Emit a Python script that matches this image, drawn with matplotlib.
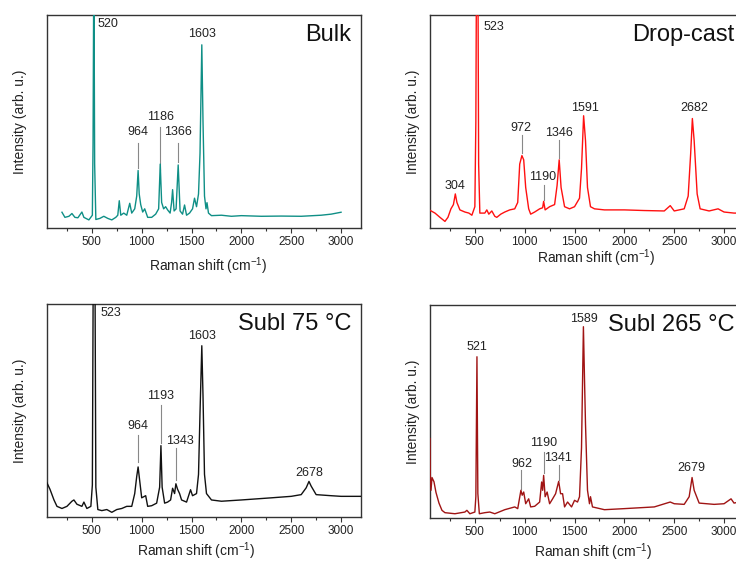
import matplotlib
matplotlib.use("Agg")
import matplotlib.pyplot as plt
from matplotlib.ticker import MultipleLocator

plt.rcParams['font.family'] = ['Liberation Sans', 'DejaVu Sans']
plt.rcParams['mathtext.fontset'] = 'custom'
plt.rcParams['mathtext.rm'] = 'Liberation Sans'
plt.rcParams['mathtext.default'] = 'regular'

# ---------------- data (normalized intensity) -------------
bulk_x = [200, 230, 270, 300, 330, 360, 400, 420, 470, 505, 512, 520, 528, 540, 580, 620, 660,
          700, 740, 760, 775, 790, 820, 850, 880, 900, 930, 950, 964, 975, 990, 1010, 1030, 1060,
          1100, 1140, 1170, 1186, 1200, 1220, 1240, 1260, 1285, 1300, 1310, 1325, 1345, 1366,
          1385, 1410, 1430, 1450, 1480, 1510, 1530, 1550, 1570, 1585, 1603, 1615, 1630, 1645,
          1655, 1670, 1700, 1800, 1900, 2000, 2200, 2400, 2600, 2800, 2900, 3000]
bulk_y = [0.074, 0.05, 0.055, 0.068, 0.05, 0.048, 0.075, 0.05, 0.038, 0.06, 0.4, 1.3, 0.3, 0.04,
          0.045, 0.055, 0.045, 0.038, 0.05, 0.06, 0.128, 0.06, 0.07, 0.06, 0.116, 0.07, 0.09,
          0.15, 0.27, 0.16, 0.11, 0.075, 0.09, 0.05, 0.05, 0.065, 0.09, 0.30, 0.12, 0.09, 0.1,
          0.085, 0.07, 0.12, 0.18, 0.08, 0.09, 0.296, 0.08, 0.065, 0.108, 0.06, 0.07, 0.09, 0.14,
          0.1, 0.16, 0.35, 0.86, 0.5, 0.15, 0.09, 0.119, 0.07, 0.058, 0.06, 0.055, 0.058, 0.055,
          0.056, 0.055, 0.06, 0.065, 0.074]

drop_x = [50, 100, 150, 200, 230, 260, 285, 304, 320, 350, 400, 440, 470, 500, 510, 517, 530,
          538, 550, 600, 620, 640, 670, 700, 720, 760, 800, 850, 900, 930, 950, 972, 990, 1010,
          1040, 1060, 1100, 1150, 1180, 1190, 1205, 1250, 1300, 1325, 1346, 1365, 1400, 1450,
          1500, 1550, 1570, 1591, 1610, 1630, 1660, 1700, 1800, 2000, 2200, 2400, 2460, 2500,
          2600, 2640, 2665, 2682, 2700, 2730, 2760, 2850, 2940, 3000, 3100, 3200]
drop_y = [0.083, 0.07, 0.05, 0.031, 0.05, 0.09, 0.11, 0.16, 0.12, 0.085, 0.075, 0.07, 0.06, 0.10,
          0.5, 1.3, 1.3, 0.3, 0.07, 0.07, 0.085, 0.065, 0.08, 0.055, 0.05, 0.065, 0.075, 0.085,
          0.09, 0.12, 0.30, 0.34, 0.32, 0.19, 0.09, 0.065, 0.075, 0.09, 0.095, 0.125, 0.085, 0.1,
          0.11, 0.2, 0.32, 0.19, 0.1, 0.09, 0.1, 0.14, 0.28, 0.527, 0.41, 0.19, 0.1, 0.09, 0.085,
          0.085, 0.082, 0.08, 0.105, 0.08, 0.09, 0.15, 0.35, 0.514, 0.41, 0.16, 0.09, 0.08, 0.09,
          0.075, 0.07, 0.07]

s75_x = [50, 80, 120, 150, 200, 250, 300, 320, 350, 400, 420, 450, 490, 505, 515, 530, 540, 560,
         600, 650, 700, 750, 800, 850, 900, 930, 950, 964, 980, 1000, 1040, 1060, 1100, 1150,
         1180, 1193, 1205, 1230, 1260, 1290, 1310, 1330, 1343, 1360, 1380, 1400, 1450, 1490,
         1510, 1550, 1570, 1585, 1603, 1615, 1630, 1650, 1700, 1800, 2000, 2300, 2500, 2600,
         2650, 2678, 2700, 2750, 2900, 3000, 3200]
s75_y = [0.16, 0.13, 0.08, 0.05, 0.04, 0.05, 0.074, 0.08, 0.06, 0.05, 0.07, 0.04, 0.05, 0.15,
         1.3, 1.3, 0.14, 0.035, 0.03, 0.035, 0.022, 0.035, 0.04, 0.05, 0.05, 0.11, 0.19, 0.235,
         0.17, 0.09, 0.1, 0.05, 0.053, 0.065, 0.14, 0.335, 0.14, 0.065, 0.07, 0.08, 0.135, 0.11,
         0.156, 0.13, 0.11, 0.08, 0.07, 0.128, 0.1, 0.11, 0.2, 0.49, 0.804, 0.57, 0.2, 0.11, 0.08,
         0.074, 0.08, 0.09, 0.097, 0.105, 0.137, 0.167, 0.145, 0.105, 0.1, 0.097, 0.097]

s265_x = [50, 53, 60, 70, 90, 110, 140, 170, 200, 300, 400, 420, 450, 500, 510, 521, 530, 545,
          600, 650, 700, 800, 900, 930, 962, 975, 990, 1010, 1040, 1060, 1100, 1150, 1170, 1180,
          1190, 1205, 1225, 1250, 1280, 1310, 1341, 1360, 1380, 1400, 1430, 1470, 1500, 1530,
          1550, 1570, 1589, 1600, 1610, 1630, 1650, 1660, 1680, 1800, 2000, 2300, 2460, 2500,
          2600, 2650, 2679, 2700, 2750, 2900, 3000, 3070, 3100, 3200]
s265_y = [0.373, 0.2, 0.13, 0.19, 0.17, 0.12, 0.07, 0.036, 0.025, 0.02, 0.028, 0.036, 0.02, 0.028,
          0.1, 0.757, 0.115, 0.02, 0.025, 0.028, 0.02, 0.039, 0.052, 0.044, 0.13, 0.107, 0.122,
          0.067, 0.09, 0.052, 0.055, 0.075, 0.169, 0.13, 0.2, 0.1, 0.122, 0.067, 0.09, 0.114,
          0.172, 0.114, 0.114, 0.052, 0.075, 0.052, 0.083, 0.075, 0.1, 0.33, 0.898, 0.65, 0.44,
          0.13, 0.067, 0.1, 0.052, 0.039, 0.044, 0.052, 0.075, 0.067, 0.064, 0.1, 0.19, 0.13,
          0.07, 0.064, 0.067, 0.09, 0.07, 0.08]

titles = ["Bulk", "Drop-cast", "Subl 75 \u00b0C", "Subl 265 \u00b0C"]
colors = ["#0f8f86", "#ff1010", "#111111", "#a01414"]

# peak labels: (text, x, y, ha)  and guide lines: (x, y_bottom, y_top)
bulk_labels = [("520", 560, 0.96, "left"), ("1603", 1603, 0.91, "center"),
               ("964", 964, 0.45, "center"), ("1186", 1186, 0.52, "center"),
               ("1366", 1366, 0.45, "center")]
bulk_lines = [(964, 0.28, 0.40), (1186, 0.27, 0.475), (1366, 0.31, 0.40)]

drop_labels = [("523", 585, 0.945, "left"), ("304", 296, 0.196, "center"),
               ("972", 958, 0.47, "center"), ("1190", 1182, 0.24, "center"),
               ("1346", 1346, 0.444, "center"), ("1591", 1600, 0.564, "center"),
               ("2682", 2705, 0.564, "center")]
drop_lines = [(972, 0.35, 0.436), (1190, 0.13, 0.20), (1346, 0.33, 0.412)]

s75_labels = [("523", 584, 0.958, "left"), ("1603", 1603, 0.848, "center"),
              ("1193", 1193, 0.566, "center"), ("964", 964, 0.426, "center"),
              ("1343", 1385, 0.358, "center"), ("2678", 2680, 0.207, "center")]
s75_lines = [(964, 0.26, 0.387), (1193, 0.347, 0.527), (1343, 0.175, 0.324)]

s265_labels = [("1589", 1590, 0.934, "center"), ("521", 521, 0.804, "center"),
               ("962", 968, 0.255, "center"), ("1190", 1190, 0.35, "center"),
               ("1341", 1332, 0.284, "center"), ("2679", 2675, 0.237, "center")]
s265_lines = [(962, 0.138, 0.224), (1190, 0.21, 0.31), (1341, 0.177, 0.248)]

xs = [bulk_x, drop_x, s75_x, s265_x]
ys = [bulk_y, drop_y, s75_y, s265_y]
labels = [bulk_labels, drop_labels, s75_labels, s265_labels]
lines = [bulk_lines, drop_lines, s75_lines, s265_lines]

# ---------------- layout ----------------
W, H = 736, 563
fig = plt.figure(figsize=(W / 100, H / 100), dpi=100)
axw = 314 / W
axh = 213 / H
positions = [(47 / W, (H - 228) / H), (430 / W, (H - 228) / H),
             (47 / W, (H - 517) / H), (430 / W, (H - 518) / H)]
xlabel_coords = [(0.513, -0.127), (0.529, -0.089), (0.475, -0.112), (0.519, -0.112)]
ylabel_coords = [(-0.064, 0.5), (-0.032, 0.5), (-0.064, 0.5), (-0.032, 0.5)]

for i in range(4):
    ax = fig.add_axes([positions[i][0], positions[i][1], axw, axh])
    ax.plot(xs[i], ys[i], color=colors[i], lw=1.0, zorder=3)
    ax.set_xlim(50, 3200)
    ax.set_ylim(0, 1)
    ax.xaxis.set_major_locator(MultipleLocator(500))
    ax.xaxis.set_minor_locator(MultipleLocator(250))
    ax.set_xticks([500, 1000, 1500, 2000, 2500, 3000])
    ax.set_yticks([])
    ax.tick_params(axis='x', which='major', direction='out', length=3.5, width=0.8,
                   color='#333333', labelsize=8.5, labelcolor='#222222', pad=2)
    ax.tick_params(axis='x', which='minor', direction='out', length=2, width=0.8,
                   color='#333333')
    for sp in ax.spines.values():
        sp.set_color('#333333')
        sp.set_linewidth(1.0)
    ax.set_xlabel("Raman shift (cm$^{-1}$)", fontsize=10, color='#222222')
    ax.set_ylabel("Intensity (arb. u.)", fontsize=10, color='#222222')
    ax.xaxis.set_label_coords(*xlabel_coords[i])
    ax.yaxis.set_label_coords(*ylabel_coords[i])
    ax.text(0.97, 0.905, titles[i], transform=ax.transAxes, ha='right', va='center',
            fontsize=17, color='#111111')
    for (t, x, y, ha) in labels[i]:
        ax.text(x, y, t, ha=ha, va='center', fontsize=9, color='#222222')
    for (x, y0, y1) in lines[i]:
        ax.plot([x, x], [y0, y1], color='#888888', lw=0.8)

fig.savefig("out.png", dpi=100)
